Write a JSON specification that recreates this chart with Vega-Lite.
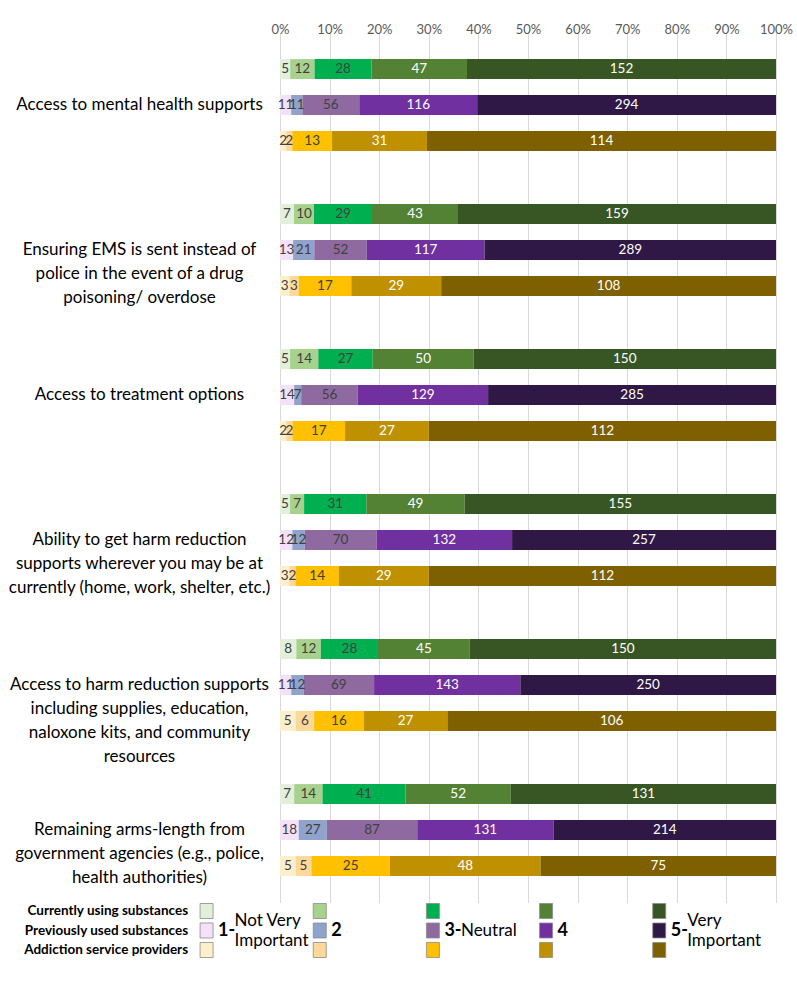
{
  "$schema": "https://vega.github.io/schema/vega-lite/v6.json",
  "padding": {"left": 0, "top": 23.5, "right": 0, "bottom": 0},
  "autosize": {"type": "pad"},
  "config": {"view": {"stroke": null}, "font": "Lato", "concat": {"spacing": 0}},
  "spacing": 0,
  "datasets": {
    "cats": [
      {"c": 1, "label": "Access to mental health supports"},
      {"c": 2, "label": "Ensuring EMS is sent instead of\npolice in the event of a drug\npoisoning/ overdose"},
      {"c": 3, "label": "Access to treatment options"},
      {"c": 4, "label": "Ability to get harm reduction\nsupports wherever you may be at\ncurrently (home, work, shelter, etc.)"},
      {"c": 5, "label": "Access to harm reduction supports\nincluding supplies, education,\nnaloxone kits, and community\nresources"},
      {"c": 6, "label": "Remaining arms-length from\ngovernment agencies (e.g., police,\nhealth authorities)"}
    ],
    "resp": [
      {"c":1,"g":"A","l":1,"n":5},{"c":1,"g":"A","l":2,"n":12},{"c":1,"g":"A","l":3,"n":28},{"c":1,"g":"A","l":4,"n":47},{"c":1,"g":"A","l":5,"n":152},
      {"c":1,"g":"B","l":1,"n":11},{"c":1,"g":"B","l":2,"n":11},{"c":1,"g":"B","l":3,"n":56},{"c":1,"g":"B","l":4,"n":116},{"c":1,"g":"B","l":5,"n":294},
      {"c":1,"g":"C","l":1,"n":2},{"c":1,"g":"C","l":2,"n":2},{"c":1,"g":"C","l":3,"n":13},{"c":1,"g":"C","l":4,"n":31},{"c":1,"g":"C","l":5,"n":114},
      {"c":2,"g":"A","l":1,"n":7},{"c":2,"g":"A","l":2,"n":10},{"c":2,"g":"A","l":3,"n":29},{"c":2,"g":"A","l":4,"n":43},{"c":2,"g":"A","l":5,"n":159},
      {"c":2,"g":"B","l":1,"n":13},{"c":2,"g":"B","l":2,"n":21},{"c":2,"g":"B","l":3,"n":52},{"c":2,"g":"B","l":4,"n":117},{"c":2,"g":"B","l":5,"n":289},
      {"c":2,"g":"C","l":1,"n":3},{"c":2,"g":"C","l":2,"n":3},{"c":2,"g":"C","l":3,"n":17},{"c":2,"g":"C","l":4,"n":29},{"c":2,"g":"C","l":5,"n":108},
      {"c":3,"g":"A","l":1,"n":5},{"c":3,"g":"A","l":2,"n":14},{"c":3,"g":"A","l":3,"n":27},{"c":3,"g":"A","l":4,"n":50},{"c":3,"g":"A","l":5,"n":150},
      {"c":3,"g":"B","l":1,"n":14},{"c":3,"g":"B","l":2,"n":7},{"c":3,"g":"B","l":3,"n":56},{"c":3,"g":"B","l":4,"n":129},{"c":3,"g":"B","l":5,"n":285},
      {"c":3,"g":"C","l":1,"n":2},{"c":3,"g":"C","l":2,"n":2},{"c":3,"g":"C","l":3,"n":17},{"c":3,"g":"C","l":4,"n":27},{"c":3,"g":"C","l":5,"n":112},
      {"c":4,"g":"A","l":1,"n":5},{"c":4,"g":"A","l":2,"n":7},{"c":4,"g":"A","l":3,"n":31},{"c":4,"g":"A","l":4,"n":49},{"c":4,"g":"A","l":5,"n":155},
      {"c":4,"g":"B","l":1,"n":12},{"c":4,"g":"B","l":2,"n":12},{"c":4,"g":"B","l":3,"n":70},{"c":4,"g":"B","l":4,"n":132},{"c":4,"g":"B","l":5,"n":257},
      {"c":4,"g":"C","l":1,"n":3},{"c":4,"g":"C","l":2,"n":2},{"c":4,"g":"C","l":3,"n":14},{"c":4,"g":"C","l":4,"n":29},{"c":4,"g":"C","l":5,"n":112},
      {"c":5,"g":"A","l":1,"n":8},{"c":5,"g":"A","l":2,"n":12},{"c":5,"g":"A","l":3,"n":28},{"c":5,"g":"A","l":4,"n":45},{"c":5,"g":"A","l":5,"n":150},
      {"c":5,"g":"B","l":1,"n":11},{"c":5,"g":"B","l":2,"n":12},{"c":5,"g":"B","l":3,"n":69},{"c":5,"g":"B","l":4,"n":143},{"c":5,"g":"B","l":5,"n":250},
      {"c":5,"g":"C","l":1,"n":5},{"c":5,"g":"C","l":2,"n":6},{"c":5,"g":"C","l":3,"n":16},{"c":5,"g":"C","l":4,"n":27},{"c":5,"g":"C","l":5,"n":106},
      {"c":6,"g":"A","l":1,"n":7},{"c":6,"g":"A","l":2,"n":14},{"c":6,"g":"A","l":3,"n":41},{"c":6,"g":"A","l":4,"n":52},{"c":6,"g":"A","l":5,"n":131},
      {"c":6,"g":"B","l":1,"n":18},{"c":6,"g":"B","l":2,"n":27},{"c":6,"g":"B","l":3,"n":87},{"c":6,"g":"B","l":4,"n":131},{"c":6,"g":"B","l":5,"n":214},
      {"c":6,"g":"C","l":1,"n":5},{"c":6,"g":"C","l":2,"n":5},{"c":6,"g":"C","l":3,"n":25},{"c":6,"g":"C","l":4,"n":48},{"c":6,"g":"C","l":5,"n":75}
    ],
    "swatches": [
      {"g":"A","l":1},{"g":"A","l":2},{"g":"A","l":3},{"g":"A","l":4},{"g":"A","l":5},
      {"g":"B","l":1},{"g":"B","l":2},{"g":"B","l":3},{"g":"B","l":4},{"g":"B","l":5},
      {"g":"C","l":1},{"g":"C","l":2},{"g":"C","l":3},{"g":"C","l":4},{"g":"C","l":5}
    ],
    "groups": [
      {"g":"A","l":1,"name":"Currently using substances"},
      {"g":"B","l":1,"name":"Previously used substances"},
      {"g":"C","l":1,"name":"Addiction service providers"}
    ],
    "levels": [
      {"g":"B","l":1,"num":"1-"},
      {"g":"B","l":2,"num":"2"},
      {"g":"B","l":3,"num":"3-"},
      {"g":"B","l":4,"num":"4"},
      {"g":"B","l":5,"num":"5-"}
    ],
    "descs": [
      {"g":"B","l":1,"desc":"Not Very\nImportant","lines":2},
      {"g":"B","l":3,"desc":"Neutral","lines":1},
      {"g":"B","l":5,"desc":"Very\nImportant","lines":2}
    ]
  },
  "vconcat": [
    {
      "spacing": 0,
      "hconcat": [
        {
          "width": 267,
          "height": 870,
          "data": {"name": "cats"},
          "mark": {"type": "text", "lineBreak": "\n", "fontSize": 17, "lineHeight": 24, "align": "center", "baseline": "middle", "color": "#000000", "dx": 6},
          "encoding": {
            "y": {"field": "c", "type": "ordinal", "axis": null, "scale": {"paddingInner": 0, "paddingOuter": 0}},
            "text": {"field": "label"}
          }
        },
        {
          "width": 496,
          "height": 870,
          "data": {"name": "resp"},
          "transform": [
            {"stack": "n", "groupby": ["c", "g"], "sort": [{"field": "l", "order": "ascending"}], "offset": "normalize", "as": ["x0", "x1"]},
            {"calculate": "(datum.x0 + datum.x1) / 2", "as": "xm"},
            {"calculate": "datum.g + datum.l", "as": "key"}
          ],
          "encoding": {
            "y": {"field": "c", "type": "ordinal", "axis": null, "scale": {"paddingInner": 0, "paddingOuter": 0}},
            "yOffset": {"field": "g", "type": "nominal", "sort": ["A", "B", "C"], "scale": {"paddingInner": 0.444, "paddingOuter": 0.74}}
          },
          "layer": [
            {
              "mark": {"type": "bar"},
              "encoding": {
                "x": {
                  "field": "x0", "type": "quantitative",
                  "scale": {"domain": [0, 1]},
                  "axis": {"orient": "top", "title": null, "values": [0, 0.1, 0.2, 0.3, 0.4, 0.5, 0.6, 0.7, 0.8, 0.9, 1], "format": ".0%", "domain": false, "ticks": false, "labelPadding": -4, "labelFontSize": 13, "labelColor": "#595959", "gridColor": "#d9d9d9", "labelFlush": false}
                },
                "x2": {"field": "x1"},
                "color": {
                  "field": "key", "type": "nominal", "legend": null,
                  "scale": {
                    "domain": ["A1","A2","A3","A4","A5","B1","B2","B3","B4","B5","C1","C2","C3","C4","C5"],
                    "range": ["#e2efda","#a9d18e","#00b050","#548235","#375623","#f5e1f7","#8fa3cc","#8f6aa0","#7030a0","#2f1846","#fcefcb","#fdd89b","#ffc000","#bf9000","#7f6000"]
                  }
                }
              }
            },
            {
              "mark": {"type": "text", "fontSize": 13.5, "baseline": "middle", "align": "center"},
              "encoding": {
                "x": {"field": "xm", "type": "quantitative"},
                "text": {"field": "n", "type": "quantitative"},
                "color": {"condition": {"test": "datum.l >= 4", "value": "#ffffff"}, "value": "#404040"}
              }
            }
          ]
        }
      ]
    },
    {
      "width": 692,
      "height": 54,
      "layer": [
        {
          "data": {"name": "swatches"},
          "transform": [{"calculate": "datum.g + datum.l", "as": "key"}],
          "mark": {"type": "rect", "stroke": "#8c8c8c", "strokeWidth": 0.8},
          "encoding": {
            "x": {"field": "l", "type": "ordinal", "axis": null, "scale": {"domain": [1,2,3,4,5], "paddingInner": 0.885, "paddingOuter": 1, "align": 0.884}},
            "y": {"field": "g", "type": "nominal", "axis": null, "scale": {"domain": ["A","B","C"], "paddingInner": 0.23, "paddingOuter": 0}},
            "color": {
              "field": "key", "type": "nominal", "legend": null,
              "scale": {
                "domain": ["A1","A2","A3","A4","A5","B1","B2","B3","B4","B5","C1","C2","C3","C4","C5"],
                "range": ["#e2efda","#a9d18e","#00b050","#548235","#375623","#f5e1f7","#8fa3cc","#8f6aa0","#7030a0","#2f1846","#fcefcb","#fdd89b","#ffc000","#bf9000","#7f6000"]
              }
            }
          }
        },
        {
          "data": {"name": "groups"},
          "mark": {"type": "text", "align": "right", "baseline": "middle", "dx": -18.5, "fontSize": 13.5, "fontWeight": "bold", "color": "#000000"},
          "encoding": {
            "x": {"field": "l", "type": "ordinal", "axis": null},
            "y": {"field": "g", "type": "nominal", "axis": null},
            "text": {"field": "name"}
          }
        },
        {
          "data": {"name": "levels"},
          "mark": {"type": "text", "align": "left", "baseline": "middle", "dx": 11.5, "fontSize": 18, "fontWeight": "bold", "color": "#000000"},
          "encoding": {
            "x": {"field": "l", "type": "ordinal", "axis": null},
            "y": {"field": "g", "type": "nominal", "axis": null},
            "text": {"field": "num"}
          }
        },
        {
          "data": {"name": "descs"},
          "transform": [{"filter": "datum.lines == 2"}],
          "mark": {"type": "text", "align": "left", "baseline": "middle", "dx": 28, "dy": -10, "fontSize": 17, "lineBreak": "\n", "lineHeight": 20, "color": "#000000"},
          "encoding": {
            "x": {"field": "l", "type": "ordinal", "axis": null},
            "y": {"field": "g", "type": "nominal", "axis": null},
            "text": {"field": "desc"}
          }
        },
        {
          "data": {"name": "descs"},
          "transform": [{"filter": "datum.lines == 1"}],
          "mark": {"type": "text", "align": "left", "baseline": "middle", "dx": 28, "fontSize": 17, "color": "#000000"},
          "encoding": {
            "x": {"field": "l", "type": "ordinal", "axis": null},
            "y": {"field": "g", "type": "nominal", "axis": null},
            "text": {"field": "desc"}
          }
        }
      ]
    }
  ]
}
